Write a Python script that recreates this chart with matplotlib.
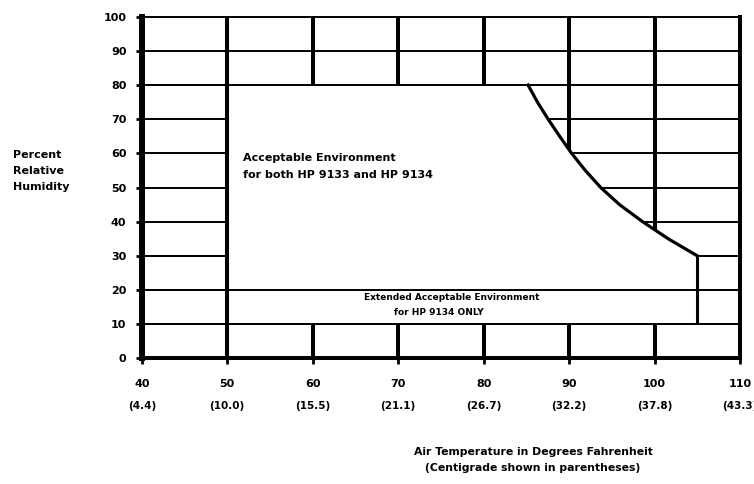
import matplotlib
matplotlib.use("Agg")
import matplotlib.pyplot as plt

plt.rcParams['font.family'] = ['DejaVu Sans']
plt.rcParams['font.weight'] = 'bold'

# axis ticks
temp_f = [40, 50, 60, 70, 80, 90, 100, 110]
temp_c = ["(4.4)", "(10.0)", "(15.5)", "(21.1)", "(26.7)", "(32.2)", "(37.8)", "(43.3)"]
rh_ticks = [0, 10, 20, 30, 40, 50, 60, 70, 80, 90, 100]

# boundary curve of the acceptable region
curve_f = [85.2, 86.3, 87.55, 88.9, 90.3, 91.9, 93.7, 95.9, 98.6, 101.6, 105.0]
curve_rh = [80, 75, 70, 65, 60, 55, 50, 45, 40, 35, 30]

# region limits
f_min_ok = 50
rh_top_ok = 80
rh_ext = 20
rh_bottom_ok = 10
f_max_ext = 105

fig = plt.figure(figsize=(7.54, 4.84), dpi=100)
ax = fig.add_axes([0.188, 0.2597, 0.7934, 0.7058])
ax.set_xlim(40, 110)
ax.set_ylim(0, 100)

# grid under the white region
ax.vlines(temp_f[1:-1], 0, 100, color='black', lw=2.9, zorder=1)
ax.hlines(rh_ticks[1:-1], 40, 110, color='black', lw=1.4, zorder=1)

# acceptable region (white, hides the grid)
poly_x = [f_min_ok, f_min_ok] + curve_f + [f_max_ext, f_max_ext]
poly_y = [rh_bottom_ok, rh_top_ok] + curve_rh + [curve_rh[-1], rh_bottom_ok]
ax.fill(poly_x, poly_y, color='white', zorder=2, lw=0)

# lines drawn over the region
ax.vlines([f_min_ok], 0, 100, color='black', lw=2.9, zorder=3)
ax.hlines([rh_top_ok, rh_ext, rh_bottom_ok], 40, 110, color='black', lw=1.4, zorder=3)
ax.plot(curve_f, curve_rh, color='black', lw=2.3, zorder=3, solid_joinstyle='round')
ax.vlines([f_max_ext], rh_bottom_ok, curve_rh[-1], color='black', lw=2.2, zorder=3)

for side, w in [('left', 4.3), ('bottom', 2.9), ('right', 2.9), ('top', 1.4)]:
    ax.spines[side].set_linewidth(w)
    ax.spines[side].set_zorder(4)

ax.set_xticks(temp_f)
ax.set_xticklabels([str(t) for t in temp_f])
ax.set_yticks(rh_ticks)
ax.set_yticklabels([str(r) for r in rh_ticks])
ax.tick_params(axis='y', length=4, width=2, pad=7, labelsize=8)
ax.tick_params(axis='x', length=4, width=2, pad=11, labelsize=8)

for t, c in zip(temp_f, temp_c):
    ax.annotate(c, xy=(t, 0), xycoords=('data', 'axes fraction'),
                xytext=(0, -34), textcoords='offset points',
                ha='center', va='center', fontsize=7.5, fontweight='bold',
                annotation_clip=False)

ax.text(f_min_ok + 1.8, 56.2, "Acceptable Environment\nfor both HP 9133 and HP 9134",
        ha='left', va='center', fontsize=8, fontweight='bold', linespacing=1.9, zorder=5)
ax.text(76.3, 17.8, "Extended Acceptable Environment", ha='center', va='center',
        fontsize=6.5, fontweight='bold', zorder=5)
ax.text(74.8, 13.3, "for HP 9134 ONLY", ha='center', va='center',
        fontsize=6.5, fontweight='bold', zorder=5)

fig.text(13 / 754, 1 - 171 / 484, "Percent\nRelative\nHumidity", ha='left', va='center',
         fontsize=8, fontweight='bold', linespacing=1.75)
fig.text(533 / 754, 1 - 460 / 484, "Air Temperature in Degrees Fahrenheit\n(Centigrade shown in parentheses)",
         ha='center', va='center', fontsize=7.8, fontweight='bold', linespacing=1.8)

fig.savefig("out.png", dpi=100)
